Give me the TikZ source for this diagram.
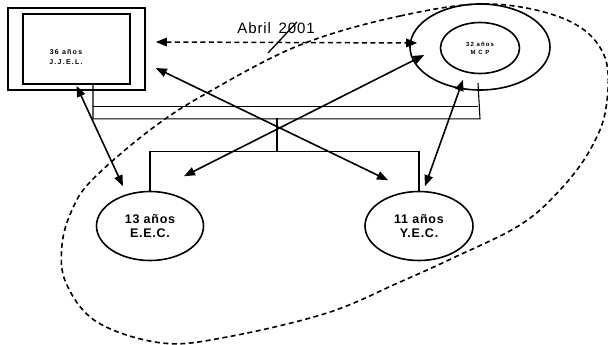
\documentclass[tikz,border=0pt]{standalone}
\usepackage{fontspec}
\setmainfont{Liberation Sans}
\newfontfamily\spacedfont[LetterSpace=18]{Liberation Sans}
\newfontfamily\labelfont[LetterSpace=6]{Liberation Sans}
\usetikzlibrary{arrows.meta,shapes.geometric}
\begin{document}
\begin{tikzpicture}[x=1pt,y=-1pt,
  link/.style={line width=1.6pt,{Triangle[length=11pt,width=8.5pt]}-{Triangle[length=11pt,width=8.5pt]}},
  person/.style={ellipse, draw, line width=1.6pt, inner sep=0pt, align=center},
  bus/.style={line width=1.1pt}]
\useasboundingbox (0,0) rectangle (608,345);

% family group
\draw[line width=1.6pt, dash pattern=on 5pt off 3.5pt] plot[smooth cycle, tension=0.6] coordinates {
  (300,45) (400,16) (490,4) (567,20) (604,55) (606,108) (590,150) (560,190) (520,225)
  (453,258) (400,282) (327,313) (227,337) (162,343) (97,322) (66,283) (62,245) (72,210)
  (92,180) (150,130) (207,93)};

\node[draw, line width=1.6pt, minimum width=137pt, minimum height=82pt] (jjelout) at (76.5,49){};
\node[draw, line width=1.6pt, minimum width=107pt, minimum height=70pt] (jjelin) at (76.5,49){};
\node[align=center, font=\spacedfont\bfseries\fontsize{7}{10}\selectfont] (jjeltxt) at (66,57){36 años\\J.J.E.L.};

\node[person, minimum width=140pt, minimum height=86pt] (mcpout) at (480,47){};
\node[person, minimum width=79pt, minimum height=51pt, font=\spacedfont\bfseries\fontsize{6}{8}\selectfont] (mcpin) at (480,48){32 años\\M C P};

\node[person, minimum width=107pt, minimum height=69pt, font=\labelfont\bfseries\fontsize{12.5}{14}\selectfont] (eec) at (150,226){13 años\\ E.E.C.};
\node[person, minimum width=108pt, minimum height=69pt, font=\labelfont\bfseries\fontsize{12.5}{14}\selectfont] (yec) at (419,226){11 años\\ Y.E.C.};

\node[font=\labelfont\fontsize{15}{16}\selectfont] (abril) at (276,28){Abril\, 2001};
\coordinate (abrilpt) at (268,53);
\draw[line width=1.3pt] ([shift={(21pt,-3pt)}]abril.north) -- (abrilpt);

% marriage
\draw[bus] ([xshift=16.5pt]jjelin.south) |- ([yshift=-28pt]mcpout.south) -- ([shift={(-2pt,8pt)}]mcpout.south);
\draw[bus] ([shift={(16.5pt,-22pt)}]jjelin.south) -- ([shift={(-2pt,-16pt)}]mcpout.south);

% children
\coordinate (famtop) at (277,118);
\coordinate (famjoin) at (277,152);
\draw[bus] (famtop) -- (famjoin);
\draw[bus] (eec.north) -- ++(0,-39.5) -| (yec.north);

\draw[line width=1.5pt, dash pattern=on 5pt off 3.5pt, {Triangle[length=11pt,width=8.5pt]}-{Triangle[length=11pt,width=8.5pt]}]
  ([shift={(10pt,7pt)}]jjelout.east) -- ([shift={(8pt,4pt)}]mcpout.west);

\draw[link] ([yshift=5pt]jjelout.south) -- ([shift={(-27pt,4.5pt)}]eec.north);
\draw[link] ([shift={(10pt,-19pt)}]jjelout.east) -- ([shift={(-31pt,10.5pt)}]yec.north);
\draw[link] ([shift={(34pt,14.5pt)}]eec.north) -- ([shift={(15pt,-8pt)}]mcpout.west);
\draw[link] ([shift={(-17pt,11pt)}]mcpout.south) -- ([shift={(6pt,4.5pt)}]yec.north);

\end{tikzpicture}
\end{document}
